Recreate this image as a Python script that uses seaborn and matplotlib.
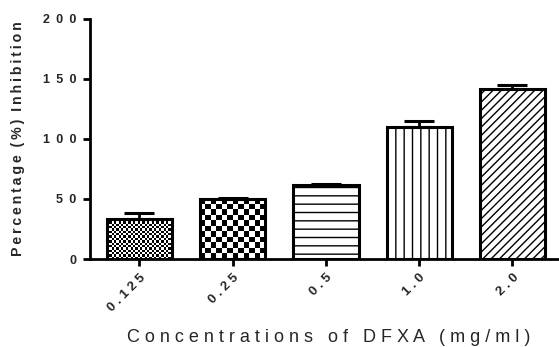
import numpy as np
import pandas as pd
import seaborn as sns
import matplotlib.pyplot as plt
from matplotlib.ticker import FuncFormatter

# dados
concentracoes = ['0.125', '0.25', '0.5', '1.0', '2.0']
inibicao = [33, 50, 62, 110, 142]
erro = [5, 0.5, 0.5, 5, 3]
hachuras = ['', '', '--', '||', '////']

sns.set_style('white')
plt.rcParams['font.family'] = ['Liberation Sans', 'DejaVu Sans']
plt.rcParams['hatch.linewidth'] = 1.0


def espacado(s, sep='\u2009', sep_palavra='   '):
    # imitar o espaçamento largo entre letras do original
    palavras = s.split(' ')
    return sep_palavra.join(sep.join(p) for p in palavras)


df = pd.DataFrame({'Conc': concentracoes, 'Inib': inibicao})

fig = plt.figure(figsize=(5.59, 3.47), dpi=100)
ax = fig.add_axes([0.161, 0.2536, 0.839, 0.6917])

sns.barplot(data=df, x='Conc', y='Inib', ax=ax, color='white', width=0.7,
            edgecolor='black', linewidth=2.2, saturation=1)

bars = ax.patches[:len(concentracoes)]
for bar, h in zip(bars, hachuras):
    bar.set_hatch(h)

ax.set_xlim(-0.53, 4.5)
ax.set_ylim(0, 200)

# xadrez nas duas primeiras barras (imagem recortada pela barra)
for bar, quad in zip(bars[:2], [2.3, 5.5]):
    x0, y0 = bar.get_x(), bar.get_y()
    w, h = bar.get_width(), bar.get_height()
    p0 = ax.transData.transform((x0, y0))
    p1 = ax.transData.transform((x0 + w, y0 + h))
    nx = max(1, int(round((p1[0] - p0[0]) / quad)))
    ny = max(1, int(round((p1[1] - p0[1]) / quad)))
    xadrez = (np.add.outer(np.arange(ny), np.arange(nx)) % 2).astype(float)
    im = ax.imshow(xadrez, cmap='gray', extent=(x0, x0 + w, y0, y0 + h),
                   interpolation='nearest', aspect='auto', zorder=bar.get_zorder())
    im.set_clip_path(bar)
    bar.set_zorder(bar.get_zorder() + 0.1)
    bar.set_facecolor('none')

ax.set_aspect('auto')
ax.set_xlim(-0.53, 4.5)
ax.set_ylim(0, 200)

centros = [b.get_x() + b.get_width() / 2 for b in bars]
ax.errorbar(centros, inibicao, yerr=[np.zeros(len(erro)), erro], fmt='none',
            ecolor='black', elinewidth=2, capsize=11, capthick=2.2, zorder=5)

sns.despine(ax=ax)
for lado in ['left', 'bottom']:
    ax.spines[lado].set_linewidth(2)
    ax.spines[lado].set_color('black')

ax.set_yticks([0, 50, 100, 150, 200])
ax.yaxis.set_major_formatter(FuncFormatter(lambda v, p: espacado(str(int(v)), '\u2002')))
ax.set_xticks(range(len(concentracoes)))
ax.set_xticklabels([espacado(c, ' ') for c in concentracoes], rotation=45, ha='right',
                   rotation_mode='anchor', fontweight='bold', fontsize=9.5)
ax.tick_params(axis='both', direction='out', length=5, width=2, color='black',
               left=True, bottom=True)
ax.tick_params(axis='y', labelsize=9, pad=5)
ax.tick_params(axis='x', pad=4)
for t in ax.get_yticklabels():
    t.set_fontweight('bold')

ax.set_xlabel(espacado('Concentrations of DFXA (mg/ml)', ' '), fontsize=13)
ax.xaxis.set_label_coords(0.508, -0.29)
ax.set_ylabel(espacado('Percentage (%) Inhibition', '\u2009', '  '),
              fontsize=10.2, fontweight='bold')
ax.yaxis.set_label_coords(-0.139, 0.5)

fig.savefig('out.png', dpi=100)
